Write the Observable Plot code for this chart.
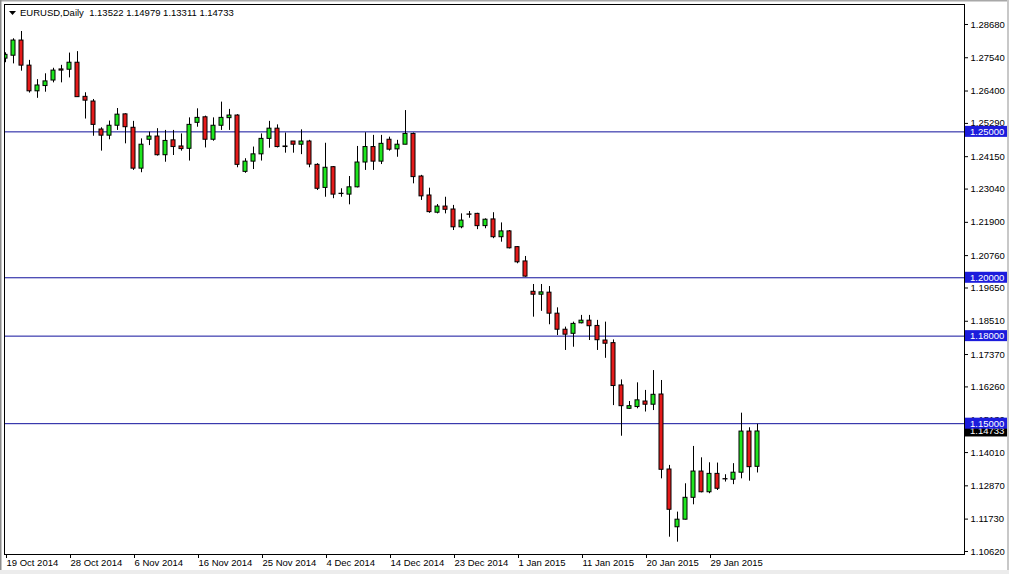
<!DOCTYPE html>
<html><head><meta charset="utf-8">
<script src="https://cdn.jsdelivr.net/npm/d3@7"></script>
<script src="https://cdn.jsdelivr.net/npm/@observablehq/plot@0.6"></script>
<style>
html,body{margin:0;padding:0;background:#fff;}
#chart{position:relative;width:1009px;height:574px;overflow:hidden;}
svg{display:block;}
</style></head><body><div id="chart"></div>
<script>
// ---- data (EURUSD daily, 19 Oct 2014 .. 5 Feb 2015, bar index incl. Sunday bars) ----
const opens  = [1.2751,1.2761,1.2813,1.2727,1.2639,1.2657,1.2676,1.2714,1.2713,1.2737,
                1.2620,1.2604,1.2508,1.2487,1.2521,1.2560,1.2514,1.2374,1.2473,1.2484,
                1.2420,1.2471,1.2450,1.2442,1.2531,1.2550,1.2473,1.2521,1.2547,1.2556,
                1.2363,1.2398,1.2423,1.2476,1.2511,1.2450,1.2467,1.2456,1.2467,1.2387,
                1.2308,1.2379,1.2288,1.2285,1.2310,1.2395,1.2448,1.2398,1.2473,1.2440,
                1.2456,1.2493,1.2347,1.2282,1.2223,1.2244,1.2234,1.2173,1.2217,1.2219,
                1.2177,1.2200,1.2139,1.2159,1.2105,1.2056,1.1952,1.1942,1.1949,1.1877,
                1.1822,1.1808,1.1844,1.1853,1.1835,1.1785,1.1776,1.1631,1.1551,1.1557,
                1.1576,1.1565,1.1600,1.1343,1.1145,1.1171,1.1246,1.1336,1.1265,1.1328,
                1.1310,1.1308,1.1332,1.1473,1.13522];
const highs  = [1.2771,1.2819,1.2844,1.2745,1.2679,1.2699,1.2718,1.2728,1.2770,1.2775,
                1.2634,1.2611,1.2514,1.2537,1.2580,1.2562,1.2536,1.2476,1.2499,1.2511,
                1.2505,1.2505,1.2493,1.2548,1.2579,1.2554,1.2548,1.2602,1.2577,1.2559,
                1.2408,1.2448,1.2493,1.2536,1.2524,1.2496,1.2467,1.2507,1.2471,1.2391,
                1.2461,1.2381,1.2305,1.2347,1.2450,1.2497,1.2488,1.2488,1.2482,1.2471,
                1.2573,1.2496,1.2351,1.2307,1.2251,1.2276,1.2248,1.2219,1.2227,1.2221,
                1.2202,1.2223,1.2188,1.2162,1.2107,1.2073,1.1977,1.1977,1.1970,1.1897,
                1.1831,1.1848,1.1871,1.1871,1.1854,1.1848,1.1787,1.1650,1.1576,1.1640,
                1.1614,1.1682,1.1648,1.1357,1.1197,1.1294,1.1422,1.1383,1.1366,1.1365,
                1.1325,1.1363,1.1536,1.1486,1.14979];
const lows   = [1.2737,1.2733,1.2708,1.2633,1.2615,1.2636,1.2668,1.2668,1.2685,1.2619,
                1.2544,1.2485,1.2434,1.2473,1.2505,1.2459,1.2368,1.2360,1.2453,1.2417,
                1.2396,1.2419,1.2434,1.2400,1.2516,1.2445,1.2468,1.2505,1.2505,1.2377,
                1.2358,1.2371,1.2400,1.2444,1.2445,1.2427,1.2427,1.2422,1.2377,1.2299,
                1.2276,1.2271,1.2276,1.2250,1.2308,1.2368,1.2368,1.2388,1.2434,1.2413,
                1.2456,1.2322,1.2265,1.2221,1.2219,1.2219,1.2162,1.2168,1.2204,1.2165,
                1.2168,1.2134,1.2122,1.2099,1.2048,1.2002,1.1865,1.1885,1.1839,1.1802,
                1.1751,1.1762,1.1842,1.1785,1.1751,1.1724,1.1562,1.1457,1.1549,1.1551,
                1.1540,1.1545,1.1311,1.1111,1.1094,1.1170,1.1222,1.1263,1.1260,1.1271,
                1.1300,1.1291,1.1311,1.1303,1.13311];
const closes = [1.2764,1.2813,1.2727,1.2639,1.2659,1.2673,1.2710,1.2710,1.2737,1.2619,
                1.2607,1.2524,1.2487,1.2521,1.2559,1.2516,1.2374,1.2456,1.2484,1.2420,
                1.2469,1.2448,1.2441,1.2524,1.2548,1.2473,1.2521,1.2548,1.2556,1.2387,
                1.2398,1.2423,1.2476,1.2511,1.2448,1.2448,1.2456,1.2467,1.2388,1.2305,
                1.2377,1.2285,1.2287,1.2310,1.2395,1.2448,1.2398,1.2459,1.2439,1.2456,
                1.2493,1.2345,1.2279,1.2225,1.2244,1.2233,1.2173,1.2196,1.2216,1.2177,
                1.2199,1.2139,1.2159,1.2101,1.2053,1.2004,1.1942,1.1950,1.1877,1.1822,
                1.1805,1.1842,1.1853,1.1834,1.1786,1.1774,1.1629,1.1560,1.1560,1.1580,
                1.1565,1.1599,1.1342,1.1205,1.1171,1.1246,1.1336,1.1265,1.1328,1.1277,
                1.1309,1.1332,1.1473,1.1351,1.14733];

const xTickIndex  = [0, 8, 16, 24, 32, 40, 48, 56, 64, 72, 80, 88];
const xTickLabels = ["19 Oct 2014","28 Oct 2014","6 Nov 2014","16 Nov 2014","25 Nov 2014",
                     "4 Dec 2014","14 Dec 2014","23 Dec 2014","1 Jan 2015","11 Jan 2015",
                     "20 Jan 2015","29 Jan 2015"];
const yTicks = [1.28680,1.27540,1.26400,1.25290,1.24150,1.23040,1.21900,1.20760,1.19650,
                1.18510,1.17370,1.16260,1.15130,1.14010,1.12870,1.11730,1.10620];
const levels = [1.25, 1.20, 1.18, 1.15];
const symbolName = "EURUSD,Daily";
const lastQuote = [1.13522, 1.14979, 1.13311, 1.14733];
const lastPrice = 1.14733;

// ---- build ----
const data = opens.map((o, i) => ({i, open: o, high: highs[i], low: lows[i], close: closes[i]}));
const GREEN = "#1ee61e", RED = "#e41a1a", LINE = "#10109c", BOX = "#1c1cdc";
const FONT = "'Liberation Sans', Arial, sans-serif";

const chart = Plot.plot({
  width: 1009, height: 574,
  marginLeft: 4, marginTop: 4, marginRight: 45, marginBottom: 20,
  style: {background: "white", fontFamily: FONT, fontSize: "9.5px", color: "black"},
  x: {type: "linear", domain: [-0.125, 119.875], label: null},
  y: {type: "linear", domain: [1.10517, 1.29365], label: null},
  marks: [
    Plot.ruleY(levels, {stroke: LINE, strokeWidth: 1}),
    Plot.ruleX(data, {x: "i", y1: "low", y2: "high", stroke: "black", clip: true}),
    Plot.rect(data, {
      x1: d => d.i - 0.25, x2: d => d.i + 0.25, y1: "open", y2: "close",
      fill: d => d.close > d.open ? GREEN : (d.close < d.open ? RED : "black"),
      stroke: "black", strokeWidth: 1, clip: true
    }),
    Plot.frame({stroke: "black"}),
    Plot.axisX({anchor: "bottom", ticks: xTickIndex, tickSize: 4, tickPadding: 1,
      tickFormat: d => xTickLabels[xTickIndex.indexOf(d)], textAnchor: "start", dx: 1, label: null}),
    Plot.axisY({anchor: "right", ticks: yTicks, tickSize: 3, tickPadding: 3,
      tickFormat: d => d.toFixed(5), label: null})
  ]
});
document.getElementById("chart").appendChild(chart);

// ---- overlays using the plot's own scales ----
const svg = d3.select(chart);
const ys = chart.scale("y");
const xs = chart.scale("x");
const right = xs.apply(119.875);
const overlay = svg.append("g").attr("text-anchor", "start").attr("font-family", FONT).attr("font-size", "9.5px");
function priceBox(v, fill) {
  const y = ys.apply(v);
  overlay.append("rect").attr("x", right + 1).attr("y", y - 5.5).attr("width", 42).attr("height", 11).attr("fill", fill);
  overlay.append("text").attr("x", right + 6).attr("y", y).attr("dy", "0.35em")
    .attr("text-anchor", "start").attr("fill", "white").text(v.toFixed(5));
}
priceBox(lastPrice, "black");
levels.forEach(v => priceBox(v, BOX));

// title
const left = xs.apply(-0.125);
overlay.append("path").attr("d", `M${left + 5},${11} L${left + 12},${11} L${left + 8.5},${15} Z`).attr("fill", "black");
overlay.append("text").attr("x", left + 16).attr("y", 16).attr("text-anchor", "start")
  .attr("fill", "black").text(symbolName + "  " + lastQuote.map(v => v.toFixed(5)).join(" "));

// window border
overlay.append("rect").attr("x", 0).attr("y", 0).attr("width", 1009).attr("height", 1.5).attr("fill", "#a8a8a8");
overlay.append("rect").attr("x", 0).attr("y", 0).attr("width", 1.5).attr("height", 574).attr("fill", "#8c8c8c");
overlay.append("rect").attr("x", 1007).attr("y", 0).attr("width", 2).attr("height", 574).attr("fill", "#c8c8c8");
overlay.append("rect").attr("x", 0).attr("y", 570).attr("width", 1009).attr("height", 4).attr("fill", "#ececec");
</script>
</body></html>
